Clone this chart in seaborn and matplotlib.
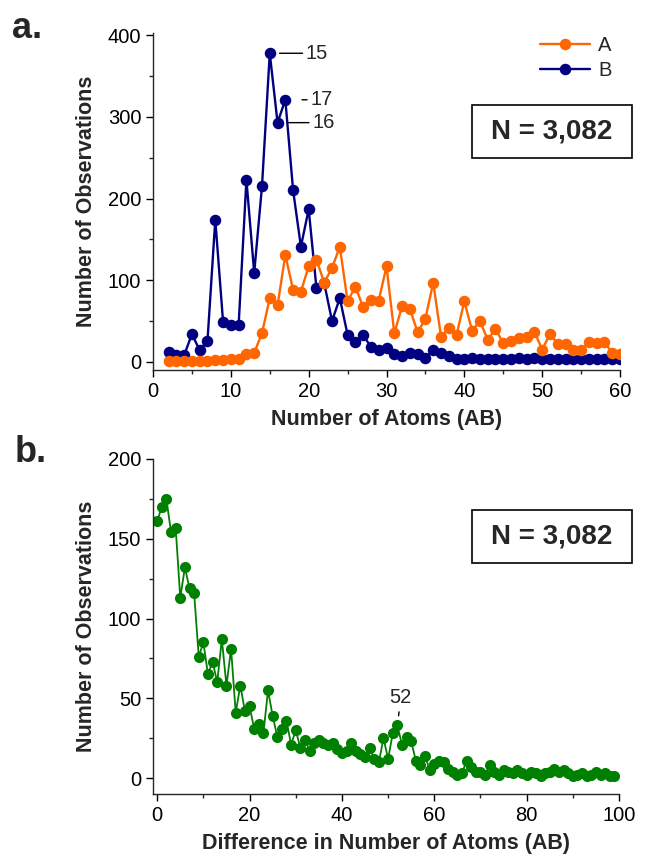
import numpy as np
import pandas as pd
import matplotlib
matplotlib.use('Agg')
from matplotlib import pyplot as plt
from matplotlib.ticker import MultipleLocator
from matplotlib.patches import Rectangle
import seaborn as sns

# panel a: number of atoms in A and B
atoms = list(range(2, 61))
count_a = [1, 1, 1, 1, 1, 1, 2, 2, 4, 4, 9, 11, 35, 78, 69, 131, 88, 86, 117, 125,
           97, 115, 141, 74, 92, 67, 76, 75, 117, 35, 68, 65, 36, 53, 97, 31, 41, 33, 74, 38,
           50, 27, 40, 23, 25, 29, 30, 37, 15, 34, 22, 22, 15, 14, 24, 23, 24, 11, 10]
count_b = [12, 8, 8, 34, 14, 26, 174, 49, 45, 45, 223, 109, 215, 378, 293, 321, 210, 141, 187, 90,
           96, 50, 78, 33, 24, 33, 18, 15, 17, 9, 7, 11, 9, 5, 15, 11, 7, 3, 4, 5,
           4, 3, 4, 3, 3, 5, 4, 5, 4, 3, 4, 4, 4, 4, 4, 3, 3, 3, 3]
peak_labels = [15, 17, 16]

# panel b: difference in number of atoms
diff = list(range(0, 100))
count_diff = [161, 170, 175, 154, 157, 113, 132, 119, 116, 76, 85, 65, 73, 60, 87, 58, 81, 41, 58, 42,
              45, 31, 34, 28, 55, 39, 26, 31, 36, 21, 30, 19, 24, 17, 22, 24, 22, 21, 22, 18,
              16, 17, 22, 17, 15, 13, 19, 12, 10, 25, 12, 28, 33, 21, 26, 23, 11, 8, 14, 5,
              9, 11, 10, 6, 4, 2, 3, 11, 7, 4, 4, 2, 8, 4, 2, 5, 4, 3, 5, 3,
              2, 4, 3, 1, 3, 4, 6, 4, 5, 3, 1, 2, 3, 1, 2, 4, 2, 3, 1, 1]
diff_label = 52
n_text = 'N = 3,082'

ORANGE = '#FF6600'
NAVY = '#000080'
GREEN = '#008000'

sns.set_style('ticks')
plt.rcParams['font.family'] = ['Liberation Sans', 'DejaVu Sans']
plt.rcParams['axes.linewidth'] = 1.0

df_a = pd.DataFrame({'atoms': atoms, 'A': count_a, 'B': count_b})
df_b = pd.DataFrame({'diff': diff, 'count': count_diff})

fig = plt.figure(figsize=(6.47, 8.60), dpi=100)
ax1 = fig.add_axes([0.2365, 0.5698, 0.7218, 0.392])
ax2 = fig.add_axes([0.2365, 0.0767, 0.7203, 0.3896])

# B first so that A sits on top
sns.lineplot(data=df_a, x='atoms', y='B', color=NAVY, marker='o', markersize=8.3,
             markeredgewidth=0, linewidth=1.7, label='B', ax=ax1)
sns.lineplot(data=df_a, x='atoms', y='A', color=ORANGE, marker='o', markersize=8.3,
             markeredgewidth=0, linewidth=1.7, label='A', ax=ax1)

handles, labels = ax1.get_legend_handles_labels()
ax1.legend(handles[::-1], labels[::-1], loc='upper left', bbox_to_anchor=(0.8346, 0.958),
           bbox_transform=fig.transFigure, frameon=False, fontsize=14.5, handlelength=2.5,
           handletextpad=0.4, labelspacing=0.28, borderpad=0, borderaxespad=0)

# leader labels on the B peaks
offsets = {15: (26, 7), 17: (18, 12), 16: (25, 7)}
for n in peak_labels:
    dx, gap = offsets[n]
    yv = df_a.loc[df_a.atoms == n, 'B'].values[0]
    ax1.annotate(str(n), xy=(n, yv), xytext=(dx, 0), textcoords='offset points',
                 ha='left', va='center', fontsize=14.5,
                 arrowprops=dict(arrowstyle='-', color='black', lw=1, shrinkA=0, shrinkB=gap))

ax1.set_xlim(0, 60)
ax1.set_ylim(-10, 403)
ax1.xaxis.set_major_locator(MultipleLocator(10))
ax1.xaxis.set_minor_locator(MultipleLocator(5))
ax1.yaxis.set_major_locator(MultipleLocator(100))
ax1.yaxis.set_minor_locator(MultipleLocator(50))
ax1.set_xlabel('Number of Atoms (AB)', fontsize=15.5, fontweight='bold', labelpad=6)
ax1.set_ylabel('Number of Observations', fontsize=15.5, fontweight='bold', labelpad=8)

sns.lineplot(data=df_b, x='diff', y='count', color=GREEN, marker='o', markersize=8,
             markeredgewidth=0, linewidth=1.3, ax=ax2)
yv = df_b.loc[df_b['diff'] == diff_label, 'count'].values[0]
ax2.annotate(str(diff_label), xy=(diff_label, yv), xytext=(2.5, 16), textcoords='offset points',
             ha='center', va='baseline', fontsize=14.5,
             arrowprops=dict(arrowstyle='-', color='black', lw=1, shrinkA=1, shrinkB=7))

ax2.set_xlim(-0.9, 100)
ax2.set_ylim(-10, 200)
ax2.xaxis.set_major_locator(MultipleLocator(20))
ax2.xaxis.set_minor_locator(MultipleLocator(10))
ax2.yaxis.set_major_locator(MultipleLocator(50))
ax2.yaxis.set_minor_locator(MultipleLocator(25))
ax2.set_xlabel('Difference in Number of Atoms (AB)', fontsize=15.5, fontweight='bold', labelpad=6)
ax2.set_ylabel('Number of Observations', fontsize=15.5, fontweight='bold', labelpad=8)

for ax in (ax1, ax2):
    sns.despine(ax=ax)
    ax.tick_params(which='major', direction='out', length=5, width=1, labelsize=14.5, colors='black')
    ax.tick_params(which='minor', direction='out', length=3, width=1)
    ax.grid(False)

# N boxes
for y0, yc in ((0.8163, 0.847), (0.3453, 0.376)):
    fig.patches.append(Rectangle((0.7295, y0), 0.2473, 0.0616, transform=fig.transFigure,
                                 facecolor='white', edgecolor='black', lw=1.2))
    fig.text(0.853, yc, n_text, ha='center', va='center', fontsize=20, fontweight='bold')

fig.text(0.018, 0.956, 'a.', fontsize=26, fontweight='bold', va='baseline')
fig.text(0.023, 0.463, 'b.', fontsize=26, fontweight='bold', va='baseline')

plt.savefig('out.png', dpi=100)
